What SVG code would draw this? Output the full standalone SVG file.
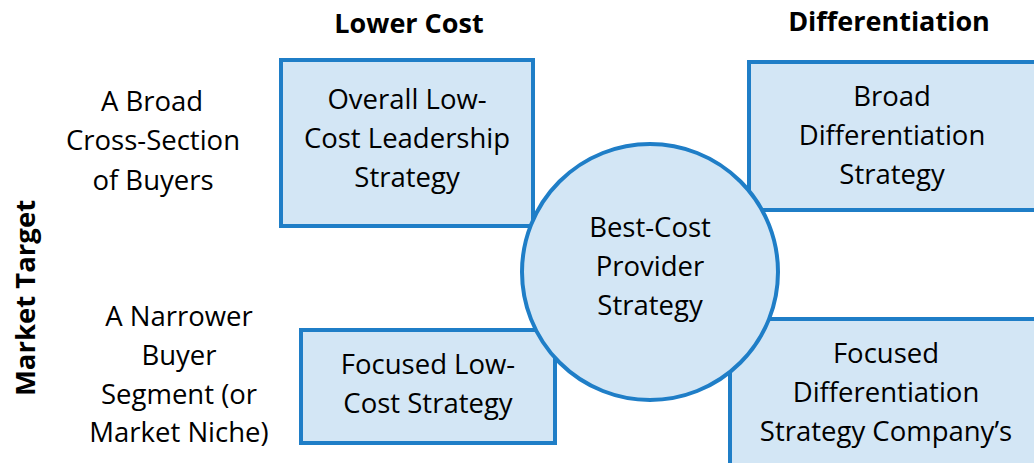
<svg xmlns="http://www.w3.org/2000/svg" width="1034" height="463" viewBox="0 0 1034 463">
<style>
.box{fill:#D3E6F5;stroke:#1F7EC7;stroke-width:4}
.t{font-family:"Open Sans","Noto Sans",sans-serif;font-size:27.5px;fill:#000;text-anchor:middle}
.h{font-family:"Open Sans","Liberation Sans",sans-serif;font-size:27px;font-weight:bold;fill:#000;text-anchor:middle}
</style>
<rect width="1034" height="463" fill="#fff"/>
<g id="headers">
<text class="h" x="409" y="33">Lower Cost</text>
<text class="h" x="889" y="31">Differentiation</text>
<text class="h" transform="translate(35,298) rotate(-90)" style="font-size:27.5px">Market Target</text>
</g>
<g id="row-labels">
<text class="t" x="152" y="111">A Broad</text>
<text class="t" x="153" y="150">Cross-Section</text>
<text class="t" x="153" y="190">of Buyers</text>
<text class="t" x="179" y="326">A Narrower</text>
<text class="t" x="179" y="365">Buyer</text>
<text class="t" x="179" y="404">Segment (or</text>
<text class="t" x="179" y="442">Market Niche)</text>
</g>
<g id="overall-low-cost">
<rect class="box" x="281" y="60" width="252" height="166"/>
<text class="t" x="407" y="109">Overall Low-</text>
<text class="t" x="407" y="148">Cost Leadership</text>
<text class="t" x="407" y="187">Strategy</text>
</g>
<g id="broad-differentiation">
<rect class="box" x="749" y="62" width="300" height="148"/>
<text class="t" x="892" y="106">Broad</text>
<text class="t" x="892" y="145">Differentiation</text>
<text class="t" x="892" y="184">Strategy</text>
</g>
<g id="focused-low-cost">
<rect class="box" x="301" y="330" width="254" height="113"/>
<text class="t" x="428" y="374">Focused Low-</text>
<text class="t" x="428" y="413">Cost Strategy</text>
</g>
<g id="focused-differentiation">
<rect class="box" x="730" y="319" width="320" height="160"/>
<text class="t" x="886" y="363">Focused</text>
<text class="t" x="886" y="402">Differentiation</text>
<text class="t" x="886" y="441">Strategy Company’s</text>
</g>
<g id="best-cost">
<circle class="box" cx="650" cy="272" r="128"/>
<text class="t" x="650" y="237">Best-Cost</text>
<text class="t" x="650" y="276">Provider</text>
<text class="t" x="650" y="315">Strategy</text>
</g>
<g id="connectors"/>
</svg>
